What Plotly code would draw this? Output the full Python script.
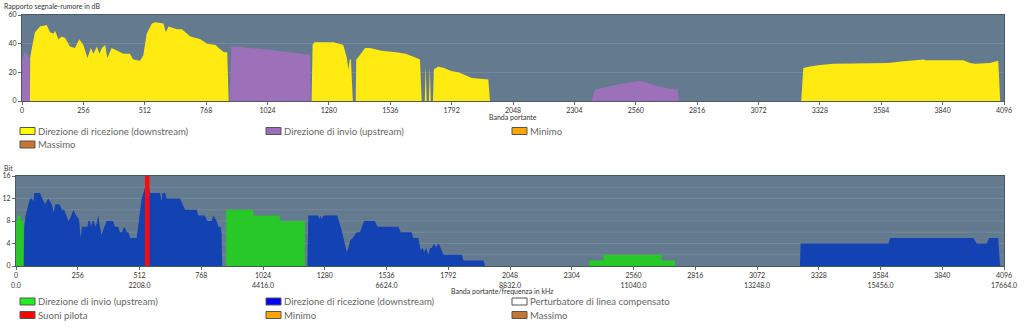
import plotly.graph_objects as go

# ---------------- DATA ----------------
# Top chart: SNR (dB) per carrier, breakpoints (carrier, value)
snr_down_x = [33, 34, 40, 54, 75, 103, 117, 131, 138, 152, 166, 180, 200, 221, 239, 256, 273, 287, 298, 312, 323, 333, 347, 356, 374, 402, 423, 450, 464, 492, 506, 520, 542, 556, 590, 600, 611, 646, 667, 702, 744, 772, 807, 828, 842, 856, 862,
              1208, 1212, 1220, 1300, 1340, 1355, 1362, 1367, 1372, 1380, 1392, 1394, 1405, 1431, 1450, 1470, 1500, 1560, 1600, 1630, 1646, 1660, 1667,
              1680, 1684, 1688, 1697, 1701, 1705,
              1714, 1718, 1736, 1760, 1790, 1820, 1850, 1876, 1945, 1952,
              3250, 3259, 3287, 3320, 3384, 3613, 3668, 3746, 3760, 3770, 3926, 3954, 3975, 4037, 4072, 4080]
snr_down_y = [0, 30, 36, 48, 52, 53, 48, 47, 49, 43, 45, 44, 38, 37, 43, 39, 30, 37, 33, 38, 33, 37, 39, 30, 37, 35, 33, 33, 29, 28, 32, 47, 54, 55, 54, 48, 52, 50, 50, 45, 43, 40, 39, 36, 34, 34, 0,
              0, 39, 41, 41, 39, 30, 22, 29, 29, 0, 0, 29, 31, 37, 37, 36, 35, 34, 33, 31, 30, 29, 0,
              0, 24, 0, 0, 24, 0,
              0, 22, 24, 23, 21, 20, 18, 16, 15, 0,
              0, 23, 24, 25, 26, 26.5, 27.5, 28.5, 29, 28.5, 28.5, 26.5, 26, 26.5, 28, 0]
snr_up_x = [0, 1, 8, 16, 24, 30, 33,
            866, 873, 900, 951, 1000, 1024, 1060, 1089, 1130, 1160, 1193, 1201, 1204,
            2376, 2390, 2420, 2453, 2500, 2550, 2578, 2610, 2647, 2690, 2717, 2735, 2739]
snr_up_y = [0, 28, 33, 34, 32, 30, 0,
            0, 38, 38, 37, 36.5, 36, 35, 34.5, 34, 33, 32.5, 32, 0,
            0, 8, 9, 10.5, 12, 13.5, 14, 12.5, 10.5, 9, 8, 8.5, 0]

# Bottom chart: bits per carrier
bits_up_x = [0, 6, 20, 32, 862, 871, 984, 1094, 1198, 2370, 2377, 2435, 2677, 2732, 4096]
bits_up_y = [8, 9, 8, 0, 0, 10, 9, 8, 0, 0, 1, 2, 1, 0, 0]
bits_down_x = [32, 34, 40, 50, 58, 65, 72, 76, 99, 109, 120, 134, 148, 157, 163, 180, 190, 200, 210, 217, 225, 238, 249, 258, 262, 268, 273, 290, 296, 300, 307, 310, 314, 318, 323, 328, 334, 341, 348, 355, 362, 376, 403, 410, 424, 431, 440, 448, 455, 459, 466, 473, 500, 514, 521, 528, 535, 545, 551, 556, 597, 604, 607, 618, 625, 680, 691, 701, 749, 756, 783, 793, 811, 818, 825, 832, 839, 848, 852, 855,
               1208, 1212, 1253, 1258, 1262, 1268, 1275, 1332, 1350, 1364, 1371, 1378, 1385, 1396, 1412, 1426, 1443, 1488, 1498, 1585, 1595, 1640, 1647, 1668, 1678, 1686, 1692, 1700, 1710, 1716, 1723, 1733, 1741, 1751, 1761, 1772, 1848, 1855, 1938, 1945,
               3250, 3253, 3617, 3624, 3969, 3983, 4024, 4035, 4072, 4080]
bits_down_y = [0, 7, 9, 11, 12, 12, 11.5, 13, 13, 12, 11, 12, 11, 9.5, 11, 11, 10, 10, 9, 8, 8.5, 10, 9, 8.5, 8, 5, 7, 7, 7, 8, 8, 7, 7.5, 8, 8, 7, 7.5, 9, 7, 5.5, 6.5, 8, 8, 7, 7, 6, 6, 7, 6.5, 6, 6, 5, 5, 10, 12, 13, 14, 14, 14, 13, 13, 11.5, 13, 13, 12, 12, 11, 10, 10, 9, 9, 8, 8, 9, 8.5, 8, 7, 7, 6, 0,
               0, 9, 9, 8.3, 9, 8.3, 9, 9, 6.4, 3.4, 2.5, 3.2, 4.6, 5, 6, 6, 8, 8, 7, 7, 6, 6, 5, 5, 2.8, 3.2, 2.5, 3.2, 2, 3.2, 3.2, 4, 3.3, 4, 3.2, 2, 2, 1, 1, 0,
               0, 4, 4, 5, 5, 4, 4, 5, 5, 0]
pilot_x = [544]
pilot_y = [16]

x_ticks = [0, 256, 512, 768, 1024, 1280, 1536, 1792, 2048, 2304, 2560, 2816, 3072, 3328, 3584, 3840, 4096]
freq_labels = ["0.0", "", "2208.0", "", "4416.0", "", "6624.0", "", "8832.0", "", "11040.0", "", "13248.0", "", "15456.0", "", "17664.0"]
snr_ticks = [0, 20, 40, 60]
bit_ticks = [0, 4, 8, 12, 16]

legend_top = [("Direzione di ricezione (downstream)", "#ffff00"),
              ("Direzione di invio (upstream)", "#9b6fbb"),
              ("Minimo", "#ffa500"),
              ("Massimo", "#c87530")]
legend_bottom = [("Direzione di invio (upstream)", "#22ee22"),
                 ("Direzione di ricezione (downstream)", "#0000ff"),
                 ("Perturbatore di linea compensato", "#ffffff"),
                 ("Suoni pilota", "#ff0000"),
                 ("Minimo", "#ffa500"),
                 ("Massimo", "#c87530")]

# ---------------- FIGURE ----------------
W, H = 1024, 330
FONT = "Lato"
BG = "#647a8e"
GRID = "#74889b"

fig = go.Figure()
fig.add_trace(go.Scatter(x=snr_up_x, y=snr_up_y, fill="tozeroy", mode="lines",
                         line=dict(width=0, color="#9d71b9"), fillcolor="#9d71b9",
                         xaxis="x", yaxis="y", showlegend=False, hoverinfo="skip"))
fig.add_trace(go.Scatter(x=snr_down_x, y=snr_down_y, fill="tozeroy", mode="lines",
                         line=dict(width=0, color="#ffea12"), fillcolor="#ffea12",
                         xaxis="x", yaxis="y", showlegend=False, hoverinfo="skip"))
fig.add_trace(go.Scatter(x=bits_up_x, y=bits_up_y, fill="tozeroy", mode="lines",
                         line=dict(width=0, color="#27c827", shape="hv"), fillcolor="#27c827",
                         xaxis="x2", yaxis="y2", showlegend=False, hoverinfo="skip"))
fig.add_trace(go.Scatter(x=bits_down_x, y=bits_down_y, fill="tozeroy", mode="lines",
                         line=dict(width=0, color="#1343b2"), fillcolor="#1343b2",
                         xaxis="x2", yaxis="y2", showlegend=False, hoverinfo="skip"))
# pilot tone: vertical line from 0 up to its value
for px_, py_ in zip(pilot_x, pilot_y):
    fig.add_trace(go.Scatter(x=[px_, px_], y=[0, py_], mode="lines",
                             line=dict(width=4.5, color="#ff0a0a"),
                             xaxis="x2", yaxis="y2", showlegend=False, hoverinfo="skip", cliponaxis=True))

def px_x(p):
    return p / W

def px_y(p):
    return 1 - p / H

tickfont = dict(family=FONT, size=7, color="#333")
axis_common = dict(showline=True, linewidth=1, mirror=True, automargin=False,
                   ticks="outside", ticklen=3, tickcolor="#666", tickfont=tickfont,
                   zeroline=False)

fig.update_layout(
    template="none",
    width=W, height=H, autosize=False,
    margin=dict(l=0, r=0, t=0, b=0, pad=0),
    paper_bgcolor="white", plot_bgcolor=BG,
    font=dict(family=FONT),
    showlegend=False,
    xaxis=dict(domain=[px_x(22), px_x(1004)], range=[0, 4096], anchor="y", linecolor="#4f5a66",
               tickvals=x_ticks, ticktext=[str(t) for t in x_ticks], showgrid=False, **axis_common),
    yaxis=dict(domain=[px_y(101), px_y(15)], range=[0, 60], anchor="x", linecolor="#4f5a66",
               tickvals=snr_ticks, showgrid=True, gridcolor=GRID, gridwidth=1, **axis_common),
    xaxis2=dict(domain=[px_x(16), px_x(1004)], range=[0, 4096], anchor="y2", linecolor="#3e5f4c",
                tickvals=x_ticks,
                ticktext=[f"{t}<br>{f}" if f else str(t) for t, f in zip(x_ticks, freq_labels)],
                showgrid=False, **axis_common),
    yaxis2=dict(domain=[px_y(266), px_y(176)], range=[0, 16], anchor="x2", linecolor="#4f5a66",
                tickvals=bit_ticks, showgrid=False, **axis_common),
)

shapes = []
annotations = []
# bottom chart grid every 2 bits
for v in range(2, 16, 2):
    shapes.append(dict(type="line", xref="x2", yref="y2", x0=0, x1=4096, y0=v, y1=v,
                       line=dict(color=GRID, width=1), layer="below"))

small = dict(family=FONT, size=7, color="#333")
annotations.append(dict(text="Rapporto segnale-rumore in dB", x=px_x(2), y=px_y(6), xref="paper", yref="paper",
                        xanchor="left", yanchor="middle", showarrow=False, font=small))
annotations.append(dict(text="Banda portante", x=px_x(513), y=px_y(117), xref="paper", yref="paper",
                        xanchor="center", yanchor="middle", showarrow=False, font=small))
annotations.append(dict(text="Bit", x=px_x(2), y=px_y(167.5), xref="paper", yref="paper",
                        xanchor="left", yanchor="middle", showarrow=False, font=small))
annotations.append(dict(text="Banda portante/frequenza in kHz", x=px_x(502), y=px_y(291), xref="paper", yref="paper",
                        xanchor="center", yanchor="middle", showarrow=False, font=small))

# Manual legends
cols = [20, 266, 512]
def add_legend(items, rows_y):
    for i, (label, color) in enumerate(items):
        cx = cols[i % 3]
        cy = rows_y[i // 3]
        shapes.append(dict(type="rect", xref="paper", yref="paper",
                           x0=px_x(cx), x1=px_x(cx + 15), y0=px_y(cy - 3.5), y1=px_y(cy + 3.5),
                           fillcolor=color, line=dict(color="#555", width=1)))
        annotations.append(dict(text=label, x=px_x(cx + 16), y=px_y(cy), xref="paper", yref="paper",
                                xanchor="left", yanchor="middle", showarrow=False,
                                font=dict(family=FONT, size=9.6, color="#666")))

add_legend(legend_top, [131, 144.5])
add_legend(legend_bottom, [301.5, 315])

fig.update_layout(shapes=shapes, annotations=annotations)
fig.write_html("out.html")
